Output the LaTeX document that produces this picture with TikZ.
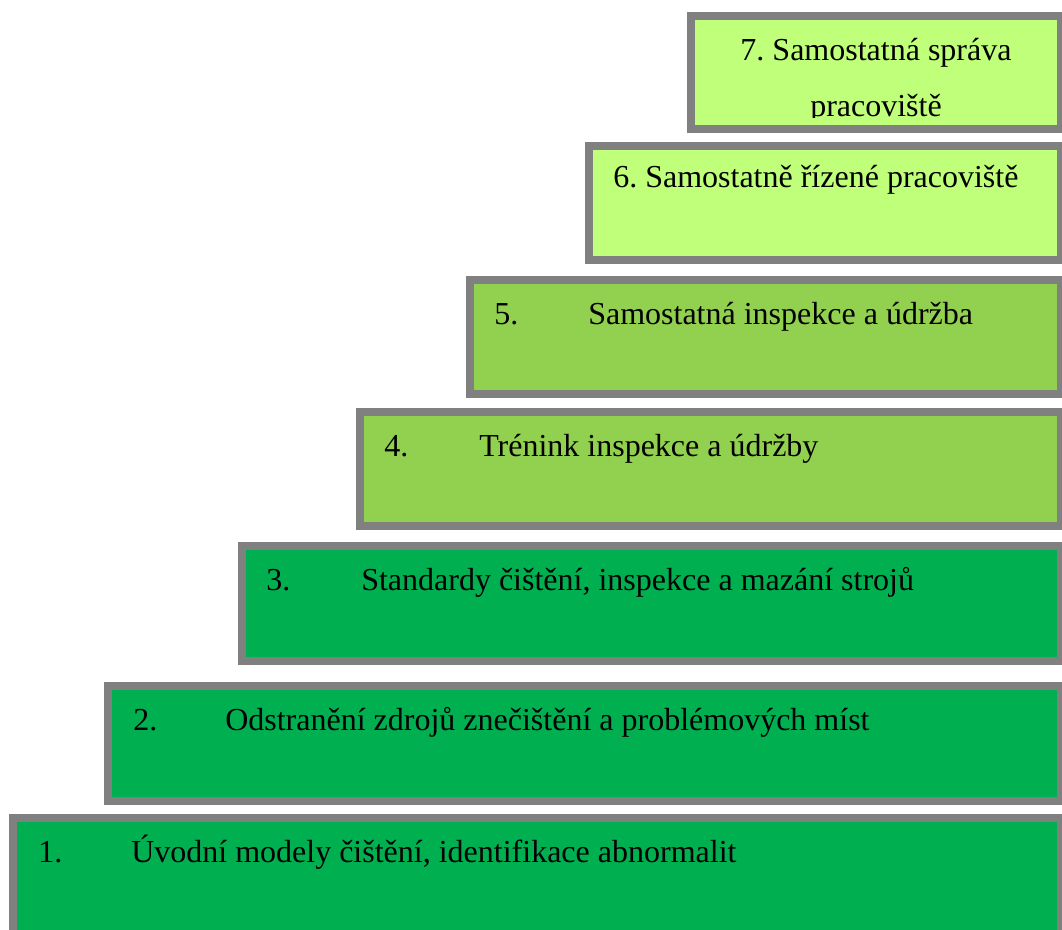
\documentclass[tikz,border=0pt]{standalone}
\usepackage{fontspec}
\setmainfont{Liberation Serif}
\usetikzlibrary{calc}
\definecolor{framegray}{RGB}{128,128,128}
\definecolor{limegreen}{RGB}{191,255,121}
\definecolor{midgreen}{RGB}{146,208,80}
\definecolor{deepgreen}{RGB}{0,176,80}
\begin{document}
\frenchspacing
\begin{tikzpicture}[x=0.75pt,y=-0.75pt,
  stepbox/.style={draw=framegray,line width=6pt,inner sep=0pt,anchor=north west},
  steptext/.style={font=\fontsize{24}{29}\selectfont,inner sep=0pt,anchor=base west,text=black},
  toptext/.style={font=\fontsize{24}{29}\selectfont,inner sep=0pt,anchor=base,text=black}]
\useasboundingbox (0,0) rectangle (1062,929);
\clip (0,0) rectangle (1062,929);

% staircase of frames, bottom step first
\node[stepbox,fill=deepgreen,minimum width=786pt,minimum height=97.5pt]   (s1) at (9,814) {};
\node[stepbox,fill=deepgreen,minimum width=714.75pt,minimum height=86.25pt] (s2) at (104,682) {};
\node[stepbox,fill=deepgreen,minimum width=614.25pt,minimum height=86.25pt] (s3) at (238,542) {};
\node[stepbox,fill=midgreen,minimum width=525.75pt,minimum height=85.5pt]   (s4) at (356,408) {};
\node[stepbox,fill=midgreen,minimum width=443.25pt,minimum height=85.5pt]   (s5) at (466,276) {};
\node[stepbox,fill=limegreen,minimum width=354pt,minimum height=85.5pt]     (s6) at (585,142) {};
\node[stepbox,fill=limegreen,minimum width=277.5pt,minimum height=84.75pt]  (s7) at (687,12) {};

% numbered labels
\node[steptext] (n1) at ($(s1.north west)+(29,48)$) {1.};
\node[steptext] (t1) at ($(s1.north west)+(122,48)$) {Úvodní modely čištění, identifikace abnormalit};
\node[steptext] (n2) at ($(s2.north west)+(29,48)$) {2.};
\node[steptext] (t2) at ($(s2.north west)+(121,48)$) {Odstranění zdrojů znečištění a problémových míst};
\node[steptext] (n3) at ($(s3.north west)+(28,48)$) {3.};
\node[steptext] (t3) at ($(s3.north west)+(123,48)$) {Standardy čištění, inspekce a mazání strojů};
\node[steptext] (n4) at ($(s4.north west)+(28,48)$) {4.};
\node[steptext] (t4) at ($(s4.north west)+(123,48)$) {Trénink inspekce a údržby};
\node[steptext] (n5) at ($(s5.north west)+(28,48)$) {5.};
\node[steptext] (t5) at ($(s5.north west)+(122,48)$) {Samostatná inspekce a údržba};
\node[steptext] (t6) at ($(s6.north west)+(28,45)$) {6. Samostatně řízené pracoviště};

% top step: centred text, second line cut off by the text area
\node[toptext] (t7a) at ($(s7.north)+(0,48)$) {7. Samostatná správa};
\begin{scope}
  \clip (695,20) rectangle (1057,117);
  \node[toptext] (t7b) at ($(s7.north)+(0,104)$) {pracoviště};
\end{scope}
\end{tikzpicture}
\end{document}
